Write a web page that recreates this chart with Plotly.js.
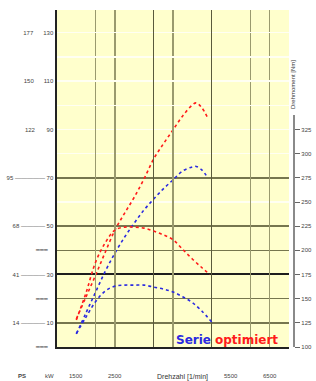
<!DOCTYPE html>
<html>
<head>
<meta charset="utf-8">
<script src="https://cdn.plot.ly/plotly-3.0.1.min.js"></script>
<style>html,body{margin:0;padding:0;background:#fff;}#chart{width:316px;height:381px;}</style>
</head>
<body>
<div id="chart"></div>
<script>
// ---- data ----
const rpmPower   = [1500,1750,2000,2250,2500,2750,3000,3250,3500,3750,4000,4250,4500,4600,4750,4900];
const powerOpt   = [11.6,20.7,29.8,39.3,48.4,55.4,62.0,69.5,77.8,84.0,89.8,95.6,100.1,101.0,98.9,94.7];
const powerSerie = [5.4,14.1,22.8,31.4,38.9,45.5,51.3,56.7,61.2,65.4,69.1,72.8,74.5,74.7,73.2,69.9];

const rpmTorqueOpt   = [1500,1750,2000,2250,2500,2750,3000,3250,3500,3750,4000,4250,4500,4750,4950];
const torqueOpt      = [128,156,188,208,221,224,224,223,220,216,211,201,191,182,175];
const rpmTorqueSerie = [1500,1750,2000,2250,2500,2750,3000,3250,3500,3750,4000,4250,4500,4750,5000];
const torqueSerie    = [114,131,147,158,163,164,164,164,162,160,157,152,146,137,126];

// left axis: kW (inner) and PS (outer)
const kwTicks  = [0,10,20,30,40,50,70,90,110,130];
const NB = '\u00A0';
const DASH = '━━━'+NB+NB+NB;
const kwLabels = [DASH, '14 ———— 10', DASH, '41 ———— 30', DASH,
                  '68 ———— 50', '95 ————— 70', '122'+NB.repeat(7)+'90', '150'+NB.repeat(6)+'110', '177'+NB.repeat(6)+'130'];
const gridFaint = [60,80,90,100,110,120,130];
const gridOlive = [10,20,40,50,70];
const gridBlack = [30];

// right axis: Nm
const nmTicks  = [100,125,150,175,200,225,250,275,300,325];
const nmLabels = nmTicks.map(String);

// x axis: rpm
const xGridDark  = [3500,5000];
const xGridOlive = [2000,2500,4000,6000,6500];
const xTickMarks = [1000,2000,2500,3500,4000,5000,6000,6500];
const xLabelVals = [1500,2500,5500,6500];
const xLabels    = ['1500','2500','5500','6500'];

const RED = '#FF1a1a', BLUE = '#2a2ae0';
const XR = [1000,7000], YR = [0,139.4];
const XD = [0, 0.9707], YD = [0.0371, 1];
const PW = 239, PH = 350;
const px = v => (v-57)/PW, py = v => (360-v)/PH;

const traces = [
  {x: rpmPower, y: powerOpt, xaxis:'x', yaxis:'y', mode:'lines', line:{color:RED, width:1.6, dash:'dot', shape:'spline'}},
  {x: rpmPower, y: powerSerie, xaxis:'x', yaxis:'y3', mode:'lines', line:{color:BLUE, width:1.6, dash:'dot', shape:'spline'}},
  {x: rpmTorqueOpt, y: torqueOpt, xaxis:'x', yaxis:'y2', mode:'lines', line:{color:RED, width:1.6, dash:'dot', shape:'spline'}},
  {x: rpmTorqueSerie, y: torqueSerie, xaxis:'x', yaxis:'y2', mode:'lines', line:{color:BLUE, width:1.6, dash:'dot', shape:'spline'}}
];

const tf = {family:'Arial', size:6, color:'#444'};
const ann = [
  {text:'<b>Serie</b>', xref:'paper', yref:'paper', x:px(193), y:py(340), xanchor:'center', yanchor:'middle', showarrow:false,
   font:{family:'DejaVu Sans', size:12, color:BLUE}},
  {text:'<b>optimiert</b>', xref:'paper', yref:'paper', x:px(246), y:py(340), xanchor:'center', yanchor:'middle', showarrow:false,
   font:{family:'DejaVu Sans', size:12, color:RED}},
  {text:'Drehmoment [Nm]', xref:'paper', yref:'paper', x:px(293), y:py(85), xanchor:'center', yanchor:'middle', textangle:-90, showarrow:false,
   font:{family:'Arial', size:6, color:'#333'}},
  {text:'Drehzahl [1/min]', xref:'paper', yref:'paper', x:px(182), y:py(377), xanchor:'center', yanchor:'middle', showarrow:false,
   font:{family:'Arial', size:7, color:'#333'}},
  {text:'<b>PS</b>', xref:'paper', yref:'paper', x:px(22), y:py(376), xanchor:'center', yanchor:'middle', showarrow:false, font:tf},
  {text:'kW', xref:'paper', yref:'paper', x:px(49), y:py(376), xanchor:'center', yanchor:'middle', showarrow:false, font:tf}
];
xLabelVals.forEach((v,i) => ann.push({text:xLabels[i], xref:'x', yref:'paper', x:v, y:py(376), xanchor:'center', yanchor:'middle',
  showarrow:false, font:tf}));

const layout = {
  width:316, height:381,
  margin:{l:57, r:20, t:10, b:21},
  paper_bgcolor:'#ffffff', plot_bgcolor:'rgba(0,0,0,0)',
  showlegend:false, hovermode:false,
  shapes:[{type:'rect', xref:'x domain', yref:'y domain', x0:0, x1:1, y0:0, y1:1, fillcolor:'#FFFFCC', line:{width:0}, layer:'below'}],
  xaxis:{domain:XD, range:XR, anchor:'y', tickmode:'array', tickvals:xGridDark, showticklabels:false, ticks:'',
         showgrid:true, gridcolor:'#5a5a3c', gridwidth:1.5, zeroline:false,
         showline:true, linecolor:'#222', linewidth:2,
         minor:{tickmode:'array', tickvals:xGridOlive, showgrid:true, gridcolor:'#9a9a6e', gridwidth:1.5, ticks:''}},
  xaxis2:{domain:XD, range:XR, overlaying:'x', anchor:'free', position:0, tickmode:'array', tickvals:xTickMarks,
          showticklabels:false, ticks:'outside', ticklen:10, tickwidth:1, tickcolor:'#444', showgrid:false, zeroline:false, showline:false},
  yaxis:{domain:YD, range:YR, anchor:'x', tickmode:'array', tickvals:kwTicks, ticktext:kwLabels, tickfont:tf, ticks:'',
         showgrid:false, zeroline:false, showline:true, linecolor:'#222', linewidth:2.5,
         minor:{tickmode:'array', tickvals:gridFaint, showgrid:true, gridcolor:'#fffff2', gridwidth:1.2, ticks:''}},
  yaxis3:{domain:YD, range:YR, overlaying:'y', anchor:'x', tickmode:'array', tickvals:gridBlack, showticklabels:false, ticks:'',
          showgrid:true, gridcolor:'#1e1e1e', gridwidth:2, zeroline:false, showline:false,
          minor:{tickmode:'array', tickvals:gridOlive, showgrid:true, gridcolor:'#76764e', gridwidth:1.5, ticks:''}},
  yaxis2:{domain:[0.0371, 0.7], range:[100, 340], anchor:'free', position:0.99, side:'right',
          tickmode:'array', tickvals:nmTicks, ticktext:nmLabels, tickfont:tf, ticks:'outside', ticklen:5, tickcolor:'#666',
          showgrid:false, zeroline:false, showline:true, linecolor:'#8a8a8a', linewidth:2.5},
  annotations: ann
};

Plotly.newPlot('chart', traces, layout, {staticPlot:true, displayModeBar:false});
</script>
</body>
</html>
